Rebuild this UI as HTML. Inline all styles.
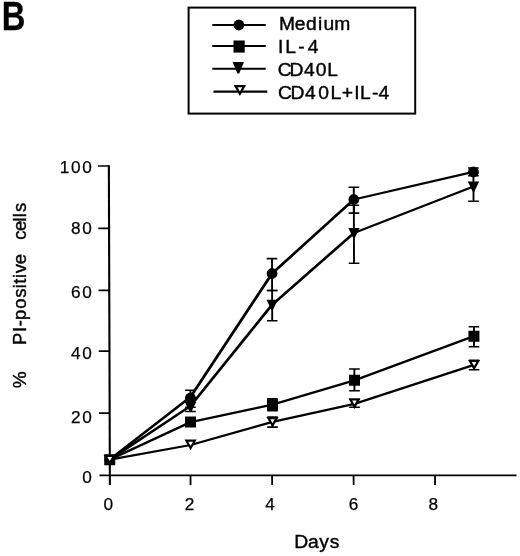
<!DOCTYPE html>
<html><head><meta charset="utf-8"><title>Figure B</title>
<style>
html,body{margin:0;padding:0;background:#fff;}
svg{display:block}
text{font-family:"Liberation Sans",Arial,Helvetica,sans-serif;fill:#000;stroke:#000;stroke-width:0.25px}
.t{font-size:17.2px;letter-spacing:1.6px}
.l{font-size:18px;letter-spacing:0;stroke-width:0.4px}
.y{font-size:17.6px;letter-spacing:0;stroke-width:0.4px}
.b{font-size:40px;font-weight:bold}
</style></head><body>
<svg width="520" height="556" viewBox="0 0 520 556">
<rect width="520" height="556" fill="#fff"/>
<g style="opacity:0.999">
<text class="b" transform="translate(1.8,30.4) scale(0.82,1)">B</text>
<rect x="188.6" y="7.6" width="226.6" height="106" fill="none" stroke="#000" stroke-width="2"/>
<path d="M212.3 25.0H265.7" stroke="#000" stroke-width="2.1"/>
<text class="l" transform="translate(0,30.00) scale(1.070,1)" x="260.68 275.39 285.94 297.30 302.25 312.31">Medium</text>
<path d="M212.3 46.0H265.7" stroke="#000" stroke-width="2.1"/>
<text class="l" transform="translate(0,52.90) scale(1.070,1)" x="259.74 266.66 278.83 287.67">IL-4</text>
<path d="M212.3 68.7H265.7" stroke="#000" stroke-width="2.1"/>
<text class="l" transform="translate(0,75.70) scale(1.070,1)" x="259.55 270.51 284.21 294.99 305.86">CD40L</text>
<path d="M213.5 91.6H267.2" stroke="#000" stroke-width="2.1"/>
<text class="l" transform="translate(0,98.50) scale(1.070,1)" x="259.74 271.51 285.15 297.33 308.81 319.37 331.14 336.38 347.56 353.74">CD40L+IL-4</text>
<circle cx="238.9" cy="25" r="5.4" fill="#000"/>
<rect x="233.5" y="40.5" width="11.2" height="12.1" fill="#000"/>
<path d="M232.6 62.1H244 L239.2 73.6H237.4Z" fill="#000"/>
<path d="M235.6 86.1L244.2 86.1L239.9 93.7Z" fill="#fff" stroke="#000" stroke-width="2.2" stroke-linejoin="miter"/>
<text class="t" x="93.3" y="482.7" text-anchor="end">0</text>
<text class="t" x="93.3" y="423.2" text-anchor="end">20</text>
<text class="t" x="93.3" y="358.7" text-anchor="end">40</text>
<text class="t" x="93.3" y="298.0" text-anchor="end">60</text>
<text class="t" x="93.3" y="234.0" text-anchor="end">80</text>
<text class="t" x="93.3" y="173.0" text-anchor="end">100</text>
<text class="t" x="109.0" y="510.2" text-anchor="middle">0</text>
<text class="t" x="190.3" y="510.2" text-anchor="middle">2</text>
<text class="t" x="270.8" y="510.2" text-anchor="middle">4</text>
<text class="t" x="354.3" y="510.2" text-anchor="middle">6</text>
<text class="t" x="434.2" y="510.2" text-anchor="middle">8</text>
<g transform="matrix(1 0 0.00323 1 -1.03 0)">
<path d="M109.35 165.2V485" stroke="#000" stroke-width="2.1" fill="none"/>
<path d="M99 475.4H516" stroke="#000" stroke-width="1.7" fill="none"/>
<path d="M98.6 413.2H109.3" stroke="#000" stroke-width="1.7"/>
<path d="M98.6 351.2H109.3" stroke="#000" stroke-width="1.7"/>
<path d="M98.6 290.4H109.3" stroke="#000" stroke-width="1.7"/>
<path d="M98.6 228.3H109.3" stroke="#000" stroke-width="1.7"/>
<path d="M98.6 166.0H109.3" stroke="#000" stroke-width="1.7"/>
<path d="M190.0 475.2V485" stroke="#000" stroke-width="1.8"/>
<path d="M271.6 475.2V485" stroke="#000" stroke-width="1.8"/>
<path d="M353.1 475.2V485" stroke="#000" stroke-width="1.8"/>
<path d="M434.5 475.2V485" stroke="#000" stroke-width="1.8"/>
<line x1="109.3" y1="459.6" x2="190.2" y2="397.0" stroke="#000" stroke-width="2.54" stroke-linecap="round"/>
<line x1="190.2" y1="397.0" x2="272.2" y2="273.5" stroke="#000" stroke-width="2.82" stroke-linecap="round"/>
<line x1="272.2" y1="273.5" x2="354.2" y2="199.5" stroke="#000" stroke-width="2.60" stroke-linecap="round"/>
<line x1="354.2" y1="199.5" x2="473.9" y2="171.9" stroke="#000" stroke-width="2.25" stroke-linecap="round"/>
<line x1="109.3" y1="459.6" x2="190.2" y2="406.0" stroke="#000" stroke-width="2.47" stroke-linecap="round"/>
<line x1="190.2" y1="406.0" x2="272.2" y2="304.7" stroke="#000" stroke-width="2.74" stroke-linecap="round"/>
<line x1="272.2" y1="304.7" x2="354.2" y2="233.0" stroke="#000" stroke-width="2.59" stroke-linecap="round"/>
<line x1="354.2" y1="233.0" x2="473.9" y2="186.5" stroke="#000" stroke-width="2.32" stroke-linecap="round"/>
<line x1="109.3" y1="459.6" x2="190.2" y2="422.1" stroke="#000" stroke-width="2.36" stroke-linecap="round"/>
<line x1="190.2" y1="422.1" x2="272.2" y2="404.7" stroke="#000" stroke-width="2.24" stroke-linecap="round"/>
<line x1="272.2" y1="404.7" x2="354.2" y2="380.3" stroke="#000" stroke-width="2.27" stroke-linecap="round"/>
<line x1="354.2" y1="380.3" x2="473.9" y2="336.2" stroke="#000" stroke-width="2.31" stroke-linecap="round"/>
<line x1="109.3" y1="459.6" x2="190.2" y2="445.0" stroke="#000" stroke-width="2.23" stroke-linecap="round"/>
<line x1="190.2" y1="445.0" x2="272.2" y2="421.8" stroke="#000" stroke-width="2.27" stroke-linecap="round"/>
<line x1="272.2" y1="421.8" x2="354.2" y2="403.8" stroke="#000" stroke-width="2.24" stroke-linecap="round"/>
<line x1="354.2" y1="403.8" x2="473.9" y2="364.8" stroke="#000" stroke-width="2.29" stroke-linecap="round"/>
<path d="M190.2 390.2V407.2" stroke="#000" stroke-width="1.9" fill="none"/>
<path d="M184.9 390.2H195.5M184.9 407.2H195.5" stroke="#000" stroke-width="1.6" fill="none"/>
<path d="M272.2 258.6V290.5" stroke="#000" stroke-width="1.9" fill="none"/>
<path d="M266.9 258.6H277.5M266.9 290.5H277.5" stroke="#000" stroke-width="1.6" fill="none"/>
<path d="M354.2 187.2V213.1" stroke="#000" stroke-width="1.9" fill="none"/>
<path d="M348.9 187.2H359.6M348.9 213.1H359.6" stroke="#000" stroke-width="1.6" fill="none"/>
<path d="M473.9 168.0V175.7" stroke="#000" stroke-width="1.9" fill="none"/>
<path d="M468.6 168.0H479.2M468.6 175.7H479.2" stroke="#000" stroke-width="1.6" fill="none"/>
<path d="M190.2 398.0V411.5" stroke="#000" stroke-width="1.9" fill="none"/>
<path d="M184.9 398.0H195.5M184.9 411.5H195.5" stroke="#000" stroke-width="1.6" fill="none"/>
<path d="M272.2 290.5V320.7" stroke="#000" stroke-width="1.9" fill="none"/>
<path d="M266.9 290.5H277.5M266.9 320.7H277.5" stroke="#000" stroke-width="1.6" fill="none"/>
<path d="M354.2 205.3V263.2" stroke="#000" stroke-width="1.9" fill="none"/>
<path d="M348.9 205.3H359.6M348.9 263.2H359.6" stroke="#000" stroke-width="1.6" fill="none"/>
<path d="M473.9 172.5V201.3" stroke="#000" stroke-width="1.9" fill="none"/>
<path d="M468.6 172.5H479.2M468.6 201.3H479.2" stroke="#000" stroke-width="1.6" fill="none"/>
<path d="M272.2 398.9V410.8" stroke="#000" stroke-width="1.9" fill="none"/>
<path d="M266.9 398.9H277.5M266.9 410.8H277.5" stroke="#000" stroke-width="1.6" fill="none"/>
<path d="M354.2 369.0V390.7" stroke="#000" stroke-width="1.9" fill="none"/>
<path d="M348.9 369.0H359.6M348.9 390.7H359.6" stroke="#000" stroke-width="1.6" fill="none"/>
<path d="M473.9 326.8V346.7" stroke="#000" stroke-width="1.9" fill="none"/>
<path d="M468.6 326.8H479.2M468.6 346.7H479.2" stroke="#000" stroke-width="1.6" fill="none"/>
<path d="M272.2 417.0V427.1" stroke="#000" stroke-width="1.9" fill="none"/>
<path d="M266.9 417.0H277.5M266.9 427.1H277.5" stroke="#000" stroke-width="1.6" fill="none"/>
<path d="M354.2 399.2V407.2" stroke="#000" stroke-width="1.9" fill="none"/>
<path d="M348.9 399.2H359.6M348.9 407.2H359.6" stroke="#000" stroke-width="1.6" fill="none"/>
<path d="M473.9 360.2V369.7" stroke="#000" stroke-width="1.9" fill="none"/>
<path d="M468.6 360.2H479.2M468.6 369.7H479.2" stroke="#000" stroke-width="1.6" fill="none"/>
<circle cx="109.3" cy="459.8" r="5.4" fill="#000"/>
<circle cx="190.2" cy="398.0" r="5.4" fill="#000"/>
<circle cx="272.2" cy="273.5" r="5.4" fill="#000"/>
<circle cx="354.2" cy="199.5" r="5.4" fill="#000"/>
<circle cx="473.9" cy="171.9" r="5.4" fill="#000"/>
<path d="M103.6 454.8H115.0L110.1 464.8H108.5Z" fill="#000"/>
<path d="M184.5 402.0H195.9L191.0 412.0H189.4Z" fill="#000"/>
<path d="M266.5 299.7H277.9L273.0 309.7H271.4Z" fill="#000"/>
<path d="M348.6 228.0H359.9L355.1 238.0H353.4Z" fill="#000"/>
<path d="M468.2 181.5H479.6L474.8 191.5H473.1Z" fill="#000"/>
<rect x="103.8" y="454.3" width="11" height="11" fill="#000"/>
<rect x="184.7" y="416.6" width="11" height="11" fill="#000"/>
<rect x="266.7" y="399.2" width="11" height="11" fill="#000"/>
<rect x="348.8" y="374.8" width="11" height="11" fill="#000"/>
<rect x="468.4" y="330.7" width="11" height="11" fill="#000"/>
<path d="M105.1 456.0L113.5 456.0L109.3 463.3Z" fill="#fff" stroke="#000" stroke-width="2.2" stroke-linejoin="miter"/>
<path d="M186.0 440.7L194.4 440.7L190.2 448.0Z" fill="#fff" stroke="#000" stroke-width="2.2" stroke-linejoin="miter"/>
<path d="M268.0 418.1L276.4 418.1L272.2 425.4Z" fill="#fff" stroke="#000" stroke-width="2.2" stroke-linejoin="miter"/>
<path d="M350.1 399.5L358.4 399.5L354.2 406.8Z" fill="#fff" stroke="#000" stroke-width="2.2" stroke-linejoin="miter"/>
<path d="M469.8 361.0L478.1 361.0L473.9 368.3Z" fill="#fff" stroke="#000" stroke-width="2.2" stroke-linejoin="miter"/>
</g>
<text class="y" transform="translate(26.00,0) rotate(-90) scale(1.000,1)" x="-388.25" style="font-size:19px">%</text>
<text class="y" transform="translate(25.90,0) rotate(-90) scale(1.050,1)" x="-328.56 -316.30 -310.79 -304.85 -293.99 -283.52 -274.57 -270.18 -264.71 -260.30 -251.78">PI-positive</text>
<text class="y" transform="translate(25.90,0) rotate(-90) scale(1.050,1)" x="-228.40 -220.02 -210.86 -206.86 -201.80">cells</text>
<text class="l" transform="translate(0,548.40) scale(1.070,1)" x="275.11 287.79 298.35 308.24">Days</text>
</g>
</svg>
</body></html>
